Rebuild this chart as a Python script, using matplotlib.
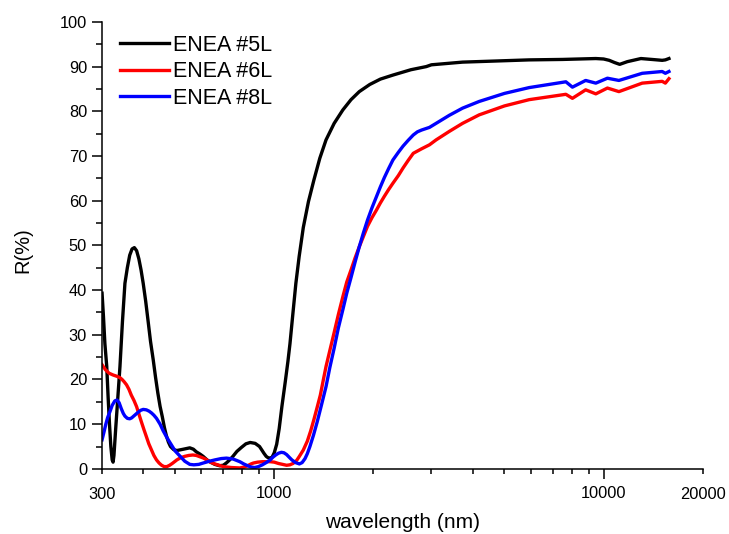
import numpy as np
import matplotlib.pyplot as plt
from matplotlib.ticker import FixedLocator, FixedFormatter

plt.rcParams['font.family'] = ['Liberation Sans', 'DejaVu Sans']

# DATA
wl_5L = [300, 303, 306, 310, 313, 316, 319, 322, 324, 326, 330, 335, 340, 346, 352, 358,
         364, 370, 376, 382, 388, 394, 400, 407, 414, 421, 429, 436, 443, 450, 457, 464,
         470, 477, 484, 495, 506, 530, 554, 568, 580, 595, 608, 625, 640, 660, 682, 700,
         715, 732, 749, 770, 795, 820, 845, 875, 902, 917, 930, 945, 957, 970, 985, 1000,
         1017, 1035, 1055, 1080, 1100, 1116, 1140, 1163, 1190, 1225, 1270, 1319, 1375,
         1436, 1520, 1615, 1710, 1812, 1950, 2100, 2292, 2600, 2894, 3000, 3730, 4500,
         5940, 7500, 9470, 10000, 10400, 10800, 11190, 11800, 12980, 14000, 15060, 15400,
         15790]
R_5L = [39.3, 34, 28, 22.9, 16, 10, 5, 2, 1.5, 3, 9, 16, 22.9, 33, 41.5, 45,
        47.8, 49.2, 49.5, 48.8, 47, 44.5, 41.5, 37.5, 33, 28.5, 24.4, 20.5, 17, 14, 11.7, 9.2,
        7.5, 6, 5.0, 4.3, 4.1, 4.4, 4.7, 4.4, 3.8, 3.3, 2.8, 2.0, 1.5, 1.0, 0.7, 0.8,
        1.3, 2.0, 2.8, 3.9, 4.8, 5.6, 5.9, 5.7, 5.0, 4.2, 3.5, 2.8, 2.5, 2.4, 2.6, 3.6,
        5.5, 9, 14, 19.5, 24, 28, 35, 41.5, 47.5, 54, 59.8, 64.6, 69.5,
        73.6, 77.3, 80.3, 82.6, 84.4, 86.0, 87.2, 88.1, 89.3, 90.0, 90.4, 91.0, 91.2,
        91.5, 91.6, 91.8, 91.7, 91.4, 90.9, 90.5, 91.1, 91.8, 91.6, 91.4, 91.5,
        91.8]

wl_6L = [300, 307, 315, 324, 333, 340, 345, 350, 356, 362, 368, 375, 382, 388, 395, 402,
         409, 416, 424, 431, 439, 447, 455, 463, 472, 481, 490, 498, 506, 520, 535, 550,
         566, 580, 595, 610, 624, 640, 660, 680, 700, 740, 786, 810, 830, 850, 864, 890,
         920, 945, 972, 1000, 1030, 1060, 1090, 1115, 1140, 1170, 1192, 1225, 1260, 1290,
         1319, 1350, 1380, 1410, 1436, 1475, 1520, 1565, 1615, 1660, 1710, 1760, 1812,
         1865, 1920, 1980, 2043, 2100, 2160, 2225, 2292, 2380, 2460, 2550, 2643, 2800,
         2960, 3100, 3400, 3730, 4190, 5000, 5940, 7680, 8040, 8820, 9470, 10270, 11130,
         13100, 15060, 15400, 15790]
R_6L = [23.3, 22.2, 21.4, 21.0, 20.7, 20.4, 20.0, 19.5, 18.8, 17.8, 16.5, 15.3, 13.9, 12.3, 10.5, 8.8,
        7.2, 5.6, 4.2, 3.0, 2.0, 1.3, 0.8, 0.5, 0.5, 0.8, 1.2, 1.6, 2.0, 2.5, 2.8, 3.0,
        3.1, 3.0, 2.7, 2.4, 2.0, 1.5, 1.1, 0.8, 0.5, 0.3, 0.2, 0.4, 0.7, 1.1, 1.3, 1.5,
        1.6, 1.6, 1.6, 1.5, 1.2, 1.0, 0.8, 0.9, 1.2, 1.9, 2.8, 4.2, 6.2, 8.5,
        11, 13.8, 16.5, 20, 22.9, 26.5, 30.5, 34.5, 38.5, 41.8, 44.5, 47.2, 49.7,
        52, 54.3, 56.2, 57.9, 59.5, 61, 62.5, 63.9, 65.6, 67.3, 69, 70.6, 71.6,
        72.5, 73.6, 75.5, 77.3, 79.2, 81.2, 82.6, 83.8, 82.9, 84.8, 83.9, 85.2, 84.4,
        86.3, 86.7, 86.3, 87.3]

wl_8L = [300, 304, 308, 312, 317, 322, 328, 333, 338, 343, 348, 352, 358, 364, 369, 377,
         385, 393, 400, 409, 417, 424, 431, 439, 450, 460, 472, 484, 500, 518, 535, 554,
         570, 590, 608, 635, 660, 690, 716, 750, 786, 808, 830, 850, 873, 895, 920, 945,
         972, 990, 1010, 1030, 1051, 1070, 1090, 1110, 1131, 1160, 1192, 1215, 1240, 1260,
         1283, 1315, 1350, 1390, 1436, 1475, 1520, 1565, 1615, 1660, 1710, 1760, 1812,
         1865, 1920, 1980, 2043, 2100, 2160, 2225, 2292, 2380, 2460, 2550, 2643, 2720,
         2800, 2960, 3100, 3400, 3730, 4190, 5000, 5940, 7680, 8040, 8820, 9470, 10270,
         11130, 13100, 15060, 15400, 15790]
R_8L = [6.5, 8.2, 10, 11.5, 12.8, 14.2, 15.2, 15.4, 14.8, 13.5, 12.4, 11.8, 11.3, 11.2, 11.4, 12.0,
        12.6, 13.1, 13.3, 13.2, 12.9, 12.5, 12.0, 11.3, 10.0, 8.5, 7.0, 5.7, 4.0, 2.8, 1.7, 1.0,
        0.9, 1.0, 1.3, 1.7, 2.0, 2.3, 2.4, 2.2, 1.6, 1.1, 0.7, 0.4, 0.3, 0.5, 0.9, 1.4,
        2.0, 2.6, 3.1, 3.5, 3.7, 3.6, 3.2, 2.6, 2.0, 1.4, 1.1, 1.4, 2.3, 3.4,
        5, 7.5, 10.5, 14.2, 18.4, 22.7, 27, 31.5, 35.6, 39.3, 42.8, 46.3, 49.7,
        52.8, 55.7, 58.4, 60.9, 63.1, 65.2, 67.2, 69.1, 70.8, 72.2, 73.5, 74.7, 75.4,
        75.8, 76.4, 77.3, 79.1, 80.7, 82.2, 84.0, 85.3, 86.6, 85.4, 86.9, 86.3, 87.4,
        86.9, 88.5, 88.9, 88.5, 88.9]

labels = ['ENEA #5L', 'ENEA #6L', 'ENEA #8L']
colors = ['black', '#ff0000', '#0000ff']

# PLOT
fig = plt.figure(figsize=(7.29, 5.34), dpi=100)
ax = fig.add_axes([0.140, 0.122, 0.824, 0.837])

for wl, R, lab, c in zip([wl_5L, wl_6L, wl_8L], [R_5L, R_6L, R_8L], labels, colors):
    ax.plot(wl, R, color=c, lw=2.4, label=lab, solid_joinstyle='round')

ax.set_xscale('log')
ax.set_xlim(300, 20000)
ax.set_ylim(0, 100)

ax.xaxis.set_major_locator(FixedLocator([1000, 10000]))
ax.xaxis.set_major_formatter(FixedFormatter(['1000', '10000']))
minors = [300, 400, 500, 600, 700, 800, 900, 2000, 3000, 4000, 5000, 6000, 7000, 8000, 9000, 20000]
ax.xaxis.set_minor_locator(FixedLocator(minors))
ax.xaxis.set_minor_formatter(FixedFormatter(['300'] + [''] * 14 + ['20000']))
ax.set_yticks(np.arange(0, 101, 10))
ax.set_yticks(np.arange(5, 100, 10), minor=True)

ax.tick_params(axis='both', which='major', direction='out', length=7.2, width=1.1, labelsize=11.8)
ax.tick_params(axis='x', which='major', pad=5.5)
ax.tick_params(axis='x', which='minor', direction='out', length=3.5, width=1.1, labelsize=11.8, pad=9.5)
ax.tick_params(axis='y', which='minor', direction='out', length=4, width=1.1)
ax.tick_params(axis='y', which='major', pad=3.6)

for s in ['top', 'right']:
    ax.spines[s].set_visible(False)
for s in ['left', 'bottom']:
    ax.spines[s].set_linewidth(1.1)

ax.set_xlabel('wavelength (nm)', fontsize=15)
ax.xaxis.set_label_coords(0.5, -0.098)
ax.set_ylabel('R(%)', fontsize=14.5)
ax.yaxis.set_label_coords(-0.116, 0.49)

ax.legend(loc='upper left', bbox_to_anchor=(0.008, 1.0), frameon=False, fontsize=15.5,
          handlelength=2.3, handletextpad=0.15, labelspacing=0.25, borderaxespad=0.2)

fig.savefig('out.png', dpi=100)
